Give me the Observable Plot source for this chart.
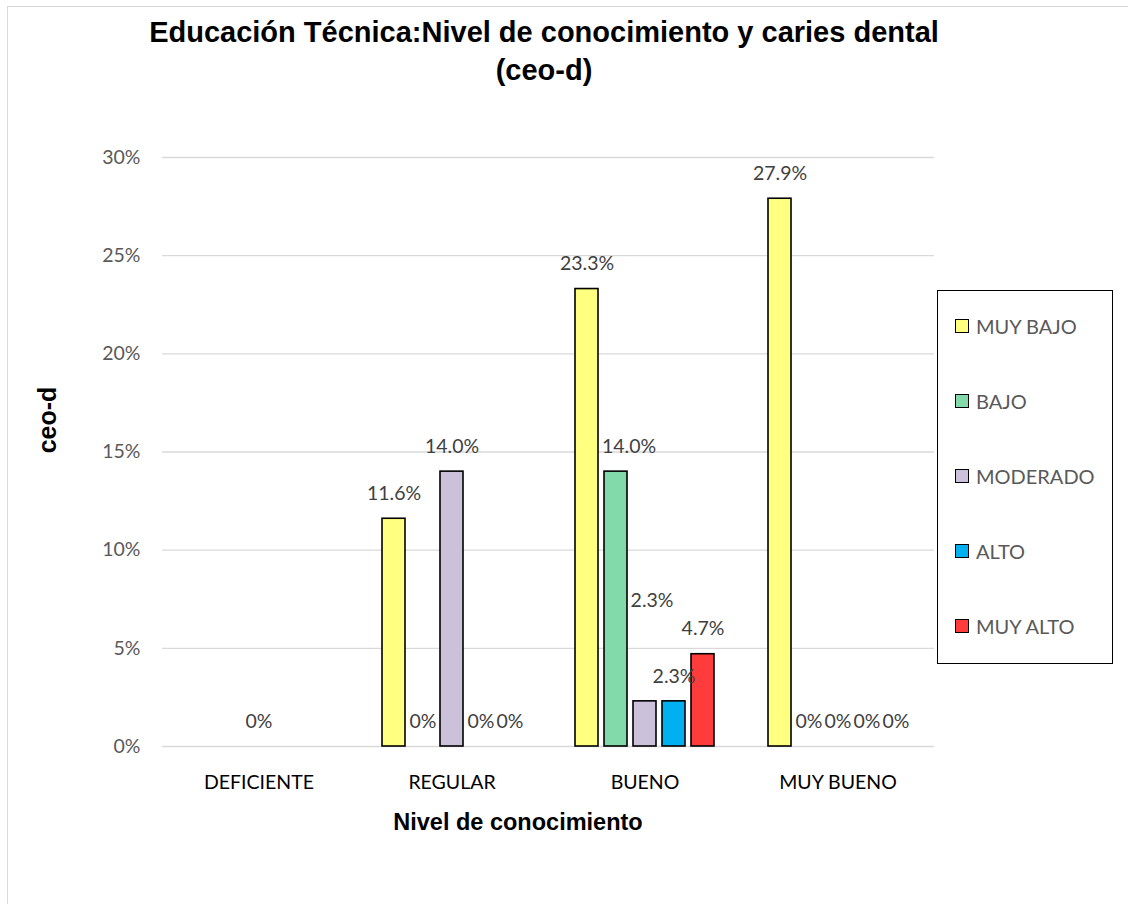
<!DOCTYPE html>
<html>
<head>
<meta charset="utf-8">
<script src="https://cdn.jsdelivr.net/npm/d3@7"></script>
<script src="https://cdn.jsdelivr.net/npm/@observablehq/plot@0.6"></script>
<style>
  html, body { margin: 0; padding: 0; background: #fff; }
  #wrap { position: relative; width: 1128px; height: 904px; overflow: hidden; background: #fff; }
  #frame { position: absolute; left: 7px; top: 6px; width: 1200px; height: 1000px; border: 1px solid #d9d9d9; box-sizing: border-box; }
  #chart { position: absolute; left: 0; top: 0; }
  .title { position: absolute; left: 0; width: 1088px; text-align: center; font-family: "Liberation Sans", Arial, sans-serif; font-weight: bold; font-size: 29px; color: #000; line-height: 1; }
  #ytitle { position: absolute; left: 47px; top: 420px; transform: translate(-50%, -50%) rotate(-90deg); font-family: "Liberation Sans", Arial, sans-serif; font-weight: bold; font-size: 25px; color: #000; white-space: nowrap; line-height: 1; }
  #xtitle { position: absolute; left: 0; width: 1036px; top: 823px; transform: translateY(-50%); text-align: center; font-family: "Liberation Sans", Arial, sans-serif; font-weight: bold; font-size: 23.5px; color: #000; line-height: 1; }
  #legend { position: absolute; left: 937px; top: 290px; width: 176px; height: 374px; border: 1.5px solid #000; box-sizing: border-box; background: #fff; }
  .item { position: absolute; left: 17px; font-family: Lato, "Open Sans", sans-serif; font-size: 20px; color: #595959; white-space: nowrap; display: flex; align-items: center; }
  .sw { width: 12px; height: 12px; border: 1.5px solid #000; margin-right: 7px; box-sizing: content-box; }
</style>
</head>
<body>
<div id="wrap">
  <div id="frame"></div>
  <div id="chart"></div>
  <div class="title" style="top:18px">Educación Técnica:Nivel de conocimiento y caries dental</div>
  <div class="title" style="top:56px">(ceo-d)</div>
  <div id="ytitle">ceo-d</div>
  <div id="xtitle">Nivel de conocimiento</div>
  <div id="legend"></div>
</div>
<script>
// ---- data ----
const categories = ["DEFICIENTE", "REGULAR", "BUENO", "MUY BUENO"];
const series = ["MUY BAJO", "BAJO", "MODERADO", "ALTO", "MUY ALTO"];
const colors = ["#FFFF80", "#82D9A9", "#CCC1DA", "#00B0F0", "#FF3B3B"];
const deficiente = [null, null, 0, null, null];
const regular = [0.116, 0, 0.140, 0, 0];
const bueno = [0.233, 0.140, 0.023, 0.023, 0.047];
const muyBueno = [0.279, 0, 0, 0, 0];
const yTicks = [0, 0.05, 0.10, 0.15, 0.20, 0.25, 0.30];

// ---- table ----
const valuesByCat = [deficiente, regular, bueno, muyBueno];
const rows = [];
categories.forEach((c, i) => {
  series.forEach((s, j) => {
    const v = valuesByCat[i][j];
    if (v !== null) rows.push({cat: c, ser: s, v});
  });
});
const fmt = d => d.v === 0 ? "0%" : (d.v * 100).toFixed(1) + "%";
const isNudged = (d, c, s) => d.cat === c && d.ser === s;
const plain = rows.filter(d => !isNudged(d, "BUENO", "BAJO") && !isNudged(d, "BUENO", "MODERADO"));

const labelFont = {fontFamily: "Lato, 'Open Sans', sans-serif", fontSize: 19.5, fill: "#404040"};

const chart = Plot.plot({
  width: 1128,
  height: 904,
  marginLeft: 160,
  marginRight: 193,
  marginTop: 157,
  marginBottom: 158,
  style: {fontFamily: "Lato, 'Open Sans', sans-serif", fontSize: "19px", background: "transparent"},
  fx: {domain: categories, padding: 0, label: null, axis: null},
  x: {domain: series, paddingInner: 0.2, paddingOuter: 0.829, axis: null},
  y: {domain: [0, 0.30], label: null},
  color: {domain: series, range: colors},
  marks: [
    Plot.gridY(yTicks, {stroke: "#d9d9d9", strokeOpacity: 1, strokeWidth: 1.3}),
    Plot.axisY(yTicks, {tickFormat: d3.format(".0%"), tickSize: 0, tickPadding: 22, fill: "#595959", fontSize: 19.5, label: null}),
    Plot.axisFx({anchor: "bottom", tickSize: 0, tickPadding: 29, fill: "#000", fontSize: 19.5, label: null}),
    Plot.barY(rows.filter(d => d.v > 0), {fx: "cat", x: "ser", y: "v", fill: "ser", stroke: "#000", strokeWidth: 1.6}),
    Plot.text(plain, {fx: "cat", x: "ser", y: "v", text: fmt, dy: -25, ...labelFont}),
    Plot.text(rows.filter(d => isNudged(d, "BUENO", "BAJO")), {fx: "cat", x: "ser", y: "v", text: fmt, dy: -25, dx: 13, ...labelFont}),
    Plot.text(rows.filter(d => isNudged(d, "BUENO", "MODERADO")), {fx: "cat", x: "ser", y: "v", text: fmt, dy: -101, dx: 7, ...labelFont})
  ]
});
document.getElementById("chart").appendChild(chart);

// ---- legend ----
const legend = document.getElementById("legend");
series.forEach((s, i) => {
  const it = document.createElement("div");
  it.className = "item";
  it.style.top = (23 + i * 75) + "px";
  const sw = document.createElement("span");
  sw.className = "sw";
  sw.style.background = colors[i];
  it.appendChild(sw);
  it.appendChild(document.createTextNode(s));
  legend.appendChild(it);
});
</script>
</body>
</html>
